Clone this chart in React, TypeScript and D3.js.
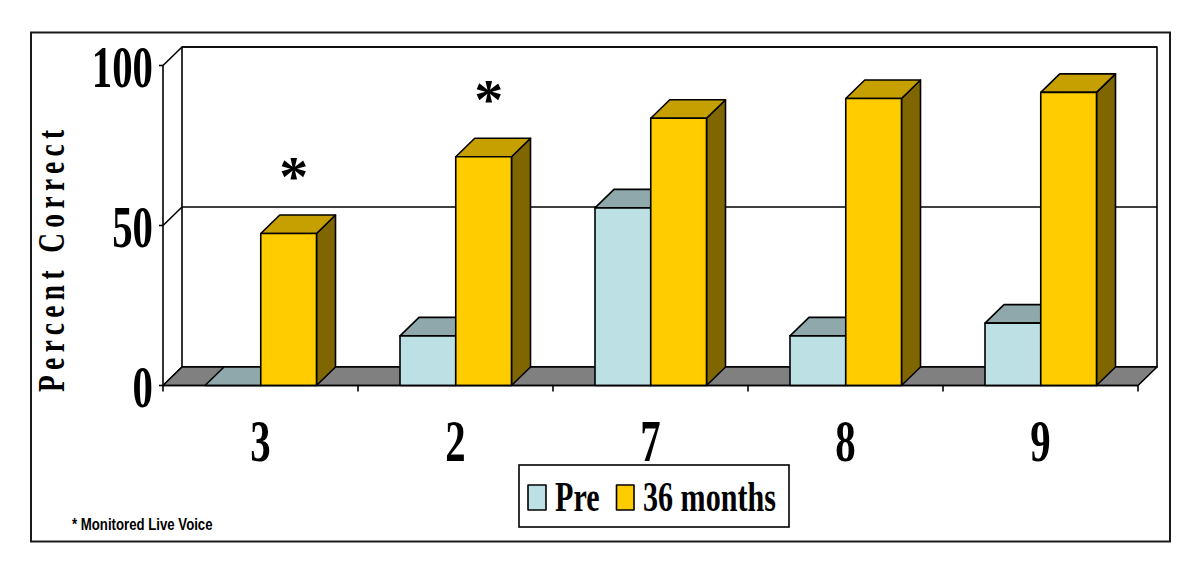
import React from "react";
import * as d3 from "d3";

const categories = ["3", "2", "7", "8", "9"];
const seriesNames = ["Pre", "36 months"];
const preValues = [0, 15.5, 55.5, 15.5, 19.5];
const monthsValues = [47.5, 71.5, 83.5, 89.7, 91.6];
const yTicks = [0, 50, 100];
const stars = ["3", "2"];

const W = 1200, H = 574;
const DX = 19, DY = -18.5;
const SERIF = "'Liberation Serif', serif";
const SANS = "'Liberation Sans', sans-serif";

const x = d3.scaleBand<string>().domain(categories).range([163, 1138]);
const y = d3.scaleLinear().domain([0, 100]).range([385.5, 65.5]);
const inner = d3.scaleBand<string>().domain(seriesNames).range([42, 153.5]);

const path = (pts: [number, number][]) => d3.line()(pts)! + "Z";
const STROKE = { stroke: "#000", strokeWidth: 1.6, strokeLinejoin: "round" as const };

function Bar({ x0, w, v, front, top, side }: { x0: number; w: number; v: number; front: string; top: string; side: string }) {
  const y0 = y(0), y1 = y(v), x1 = x0 + w;
  return (
    <g {...STROKE}>
      <path d={path([[x1, y0], [x1 + DX, y0 + DY], [x1 + DX, y1 + DY], [x1, y1]])} fill={side} />
      <path d={path([[x0, y1], [x1, y1], [x1 + DX, y1 + DY], [x0 + DX, y1 + DY]])} fill={top} />
      <rect x={x0} y={y1} width={w} height={y0 - y1} fill={front} />
    </g>
  );
}

function Squeezed({ tx, ty, sx, size, anchor = "middle", font = SERIF, weight = 700, spacing, children }: any) {
  return (
    <text transform={`translate(${tx},${ty}) scale(${sx},1)`} fontFamily={font} fontWeight={weight} fontSize={size}
      textAnchor={anchor} letterSpacing={spacing} fill="#000">{children}</text>
  );
}

export default function App() {
  const xL = x.range()[0], xR = x.range()[1];
  return (
    <svg width={W} height={H} viewBox={`0 0 ${W} ${H}`} style={{ position: "absolute", left: 0, top: 0, background: "#fff" }}>
      <rect x={31} y={32.5} width={1139} height={509} fill="#fff" stroke="#1a1a1a" strokeWidth={2} />

      {/* back wall and side wall */}
      <g fill="none" {...STROKE}>
        <rect x={xL + DX} y={y(100) + DY} width={xR - xL} height={y(0) - y(100)} />
        <line x1={xL} x2={xL} y1={y(100)} y2={y(0)} />
        {yTicks.map((t) => (
          <g key={t}>
            <line x1={xL - 4} x2={xL} y1={y(t)} y2={y(t)} />
            <line x1={xL} x2={xL + DX} y1={y(t)} y2={y(t) + DY} />
            <line x1={xL + DX} x2={xR + DX} y1={y(t) + DY} y2={y(t) + DY} />
          </g>
        ))}
      </g>

      {/* floor */}
      <path d={path([[xL, y(0)], [xR, y(0)], [xR + DX, y(0) + DY], [xL + DX, y(0) + DY]])} fill="#808080" {...STROKE} />

      {/* bars */}
      {categories.map((c, i) => (
        <g key={c}>
          <Bar x0={x(c)! + inner("Pre")!} w={inner.bandwidth()} v={preValues[i]} front="#bce0e4" top="#8ea8ab" side="#5e7072" />
          <Bar x0={x(c)! + inner("36 months")!} w={inner.bandwidth()} v={monthsValues[i]} front="#ffcc00" top="#c69f00" side="#806600" />
        </g>
      ))}

      {/* category axis */}
      <g {...STROKE}>
        <line x1={xL} x2={xR} y1={y(0)} y2={y(0)} />
        {[...categories.map((c) => x(c)!), xR].map((t) => (
          <line key={t} x1={t} x2={t} y1={y(0)} y2={y(0) + 6} />
        ))}
      </g>

      {/* tick labels */}
      {yTicks.map((t) => (
        <Squeezed key={t} tx={153} ty={y(t) + 21} sx={0.68} size={60} anchor="end">{t}</Squeezed>
      ))}
      {categories.map((c) => (
        <Squeezed key={c} tx={x(c)! + 97.5} ty={461} sx={0.68} size={60}>{c}</Squeezed>
      ))}

      {/* axis title */}
      <g transform="translate(64,392) rotate(-90)">
        <Squeezed tx={0} ty={0} sx={0.72} size={38} anchor="start" spacing={7.5}>Percent Correct</Squeezed>
      </g>

      {/* significance markers */}
      {stars.map((c) => {
        const i = categories.indexOf(c);
        return (
          <text key={c} x={x(c)! + inner("36 months")! + 33} y={y(monthsValues[i]) - 38} fontFamily={SERIF} fontWeight={700}
            fontSize={58} textAnchor="middle" fill="#000">*</text>
        );
      })}

      {/* legend */}
      <rect x={519} y={465} width={270} height={62} fill="#fff" stroke="#000" strokeWidth={1.6} />
      <rect x={528} y={485} width={18} height={25} fill="#bce0e4" {...STROKE} />
      <Squeezed tx={555} ty={511} sx={0.7} size={43} anchor="start">{seriesNames[0]}</Squeezed>
      <rect x={616.5} y={485} width={17.5} height={25} fill="#ffcc00" {...STROKE} />
      <Squeezed tx={643} ty={511} sx={0.7} size={43} anchor="start">{seriesNames[1]}</Squeezed>

      {/* footnote */}
      <Squeezed tx={72} ty={530} sx={0.8} size={16.5} anchor="start" font={SANS}>* Monitored Live Voice</Squeezed>
    </svg>
  );
}
